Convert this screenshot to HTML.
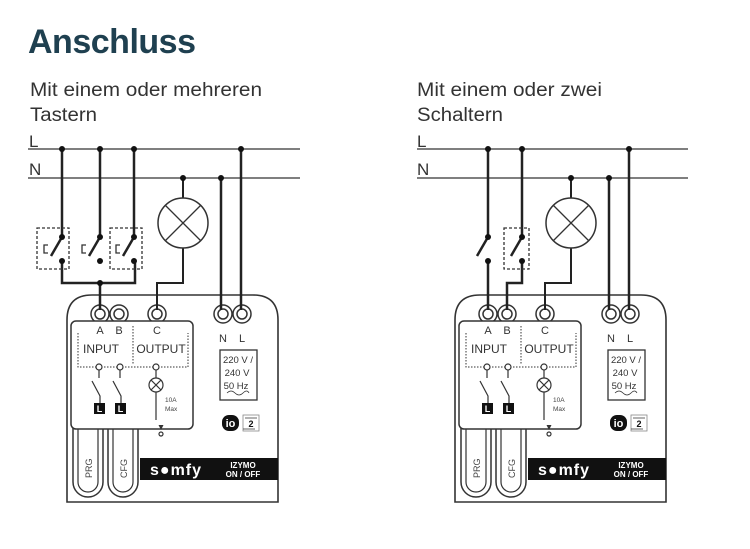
<!DOCTYPE html>
<html><head><meta charset="utf-8"><style>
html,body{margin:0;padding:0;background:#fff;}
svg{display:block;font-family:"Liberation Sans",sans-serif;}
</style></head><body>
<svg width="750" height="549" viewBox="0 0 750 549" xmlns="http://www.w3.org/2000/svg">
<defs>
<g id="dev">
  <path d="M67,502 V320 Q67,295 92,295 H253 Q278,295 278,320 V502 Z" fill="#fff" stroke="#333" stroke-width="1.6"/>
  <path d="M73,425 V482 a15,15 0 0 0 30,0 V425" fill="none" stroke="#333" stroke-width="1.5"/>
  <path d="M78,425 V482 a10,10 0 0 0 20,0 V425" fill="none" stroke="#333" stroke-width="1.2"/>
  <path d="M108,425 V482 a15,15 0 0 0 30,0 V425" fill="none" stroke="#333" stroke-width="1.5"/>
  <path d="M113,425 V482 a10,10 0 0 0 20,0 V425" fill="none" stroke="#333" stroke-width="1.2"/>
  <text x="92" y="478" font-size="9" fill="#444" transform="rotate(-90 92 478)">PRG</text>
  <text x="127" y="478" font-size="9" fill="#444" transform="rotate(-90 127 478)">CFG</text>
  <g fill="#fff" stroke="#333" stroke-width="1.5">
    <circle cx="100" cy="314" r="9"/><circle cx="119" cy="314" r="9"/><circle cx="157" cy="314" r="9"/>
    <circle cx="223" cy="314" r="9"/><circle cx="242" cy="314" r="9"/>
    <circle cx="100" cy="314" r="5"/><circle cx="119" cy="314" r="5"/><circle cx="157" cy="314" r="5"/>
    <circle cx="223" cy="314" r="5"/><circle cx="242" cy="314" r="5"/>
  </g>
  <rect x="71" y="321" width="122" height="108" rx="5" fill="#fff" stroke="#333" stroke-width="1.5"/>
  <g font-size="11" fill="#333" text-anchor="middle">
    <text x="100" y="334">A</text><text x="119" y="334">B</text><text x="157" y="334">C</text>
    <text x="223" y="342">N</text><text x="242" y="342">L</text>
    <text x="101" y="353" font-size="12">INPUT</text><text x="161" y="353" font-size="12">OUTPUT</text>
  </g>
  <g stroke="#333" stroke-width="1" stroke-dasharray="1.5,1.5" fill="none">
    <path d="M78,333 V367 H188 V333"/><path d="M133,326 V365"/>
  </g>
  <g stroke="#333" stroke-width="1.2" fill="#fff">
    <circle cx="99" cy="367" r="3"/><circle cx="120" cy="367" r="3"/><circle cx="156" cy="367" r="3"/>
    <path d="M99,370 V378 M92,381 L100,396 V404 M120,370 V378 M113,381 L121,396 V404 M156,370 V378" fill="none"/>
    <circle cx="156" cy="385" r="7"/>
    <path d="M151,380 L161,390 M161,380 L151,390 M156,392 V420" fill="none"/>
    <circle cx="161" cy="434" r="2"/>
  </g>
  <rect x="94" y="403" width="11" height="11" fill="#111"/><rect x="115" y="403" width="11" height="11" fill="#111"/>
  <text x="99.5" y="412" font-size="9" fill="#fff" text-anchor="middle" font-weight="bold">L</text>
  <text x="120.5" y="412" font-size="9" fill="#fff" text-anchor="middle" font-weight="bold">L</text>
  <text x="165" y="402" font-size="6.5" fill="#444">10A</text>
  <text x="165" y="411" font-size="6.5" fill="#444">Max</text>
  <path d="M158.5,425 H163.5 L161,430 Z" fill="#333"/>
  <rect x="220" y="350" width="37" height="50" fill="#fff" stroke="#333" stroke-width="1.3"/>
  <g font-size="9.5" fill="#333" text-anchor="middle">
    <text x="238" y="363">220 V /</text><text x="237" y="376">240 V</text><text x="236" y="389">50 Hz</text>
  </g>
  <path d="M227,393 q4,-4 8,0 t8,0 t6,0" fill="none" stroke="#333" stroke-width="0.8"/>
  <rect x="222" y="415" width="17" height="16" rx="7" fill="#111"/>
  <text x="230.5" y="427" font-size="11" fill="#fff" text-anchor="middle" font-weight="bold">io</text>
  <rect x="243" y="415" width="16" height="16" fill="#fff" stroke="#888" stroke-width="0.8"/>
  <text x="251" y="427" font-size="9" fill="#111" text-anchor="middle" font-weight="bold">2</text>
  <path d="M245,418 H257 M243,429 H255" stroke="#333" stroke-width="0.8"/>
  <rect x="140" y="458" width="138" height="22" fill="#111"/>
  <text x="150" y="475" font-size="16" fill="#fff" font-weight="bold" letter-spacing="1">s<tspan fill="#fff">●</tspan>mfy</text>
  <text x="243" y="468" font-size="8" fill="#fff" text-anchor="middle" font-weight="bold">IZYMO</text>
  <text x="243" y="477" font-size="8" fill="#fff" text-anchor="middle" font-weight="bold">ON / OFF</text>
</g>
</defs>

<text x="28" y="53" font-size="34" font-weight="bold" fill="#1f4050" textLength="168">Anschluss</text>
<g font-size="19" fill="#333">
  <text x="30" y="96" textLength="232" lengthAdjust="spacingAndGlyphs">Mit einem oder mehreren</text><text x="30" y="121" textLength="67" lengthAdjust="spacingAndGlyphs">Tastern</text>
  <text x="417" y="96" textLength="185" lengthAdjust="spacingAndGlyphs">Mit einem oder zwei</text><text x="417" y="121" textLength="86" lengthAdjust="spacingAndGlyphs">Schaltern</text>
</g>

<!-- LEFT -->
<use href="#dev"/>
<g font-size="17" fill="#333"><text x="29" y="147">L</text><text x="29" y="175">N</text>
<text x="417" y="147">L</text><text x="417" y="175">N</text></g>
<g stroke="#555" stroke-width="1.5">
  <path d="M28,149 H300 M28,178 H300"/>
  <path d="M417,149 H688 M417,178 H688"/>
</g>
<g fill="none" stroke="#222" stroke-width="2.5">
  <path d="M62,149 V237 L51,256 M100,149 V237 L89,256 M134,149 V237 L123,256"/>
  <path d="M62,261 V283 H135 V261 M100,283 V310"/>
  <path d="M221,178 V310 M241,149 V310"/>
  <path d="M183,248 V283 H157 V310" stroke-width="2"/>
  <path d="M183,178 V198" stroke-width="2"/>
</g>
<g fill="none" stroke="#333" stroke-width="1.3">
  <path d="M48,245 H44 V253 H48 M86,245 H82 V253 H86 M120,245 H116 V253 H120"/>
  <g stroke-dasharray="3,2"><rect x="37" y="228" width="32" height="41"/><rect x="110" y="228" width="32" height="41"/></g>
  <circle cx="183" cy="223" r="25" fill="#fff" stroke-width="1.5"/>
  <path d="M165,205 L201,241 M201,205 L165,241"/>
</g>
<g fill="#111">
  <circle cx="62" cy="149" r="3"/><circle cx="100" cy="149" r="3"/><circle cx="134" cy="149" r="3"/><circle cx="241" cy="149" r="3"/>
  <circle cx="183" cy="178" r="3"/><circle cx="221" cy="178" r="3"/>
  <circle cx="62" cy="237" r="3"/><circle cx="100" cy="237" r="3"/><circle cx="134" cy="237" r="3"/>
  <circle cx="62" cy="261" r="3"/><circle cx="100" cy="261" r="3"/><circle cx="134" cy="261" r="3"/>
  <circle cx="100" cy="283" r="3"/>
</g>

<!-- RIGHT -->
<use href="#dev" transform="translate(388,0)"/>
<g fill="none" stroke="#222" stroke-width="2.5">
  <path d="M488,149 V237 L477,256 M522,149 V237 L511,256"/>
  <path d="M488,261 V310 M522,261 V283 H507 V310"/>
  <path d="M609,178 V310 M629,149 V310"/>
  <path d="M571,248 V283 H545 V310" stroke-width="2"/>
  <path d="M571,178 V198" stroke-width="2"/>
</g>
<g fill="none" stroke="#333" stroke-width="1.3">
  <rect x="504" y="228" width="25" height="41" stroke-dasharray="3,2"/>
  <circle cx="571" cy="223" r="25" fill="#fff" stroke-width="1.5"/>
  <path d="M553,205 L589,241 M589,205 L553,241"/>
</g>
<g fill="#111">
  <circle cx="488" cy="149" r="3"/><circle cx="522" cy="149" r="3"/><circle cx="629" cy="149" r="3"/>
  <circle cx="571" cy="178" r="3"/><circle cx="609" cy="178" r="3"/>
  <circle cx="488" cy="237" r="3"/><circle cx="522" cy="237" r="3"/>
  <circle cx="488" cy="261" r="3"/><circle cx="522" cy="261" r="3"/>
</g>
</svg>
</body></html>
